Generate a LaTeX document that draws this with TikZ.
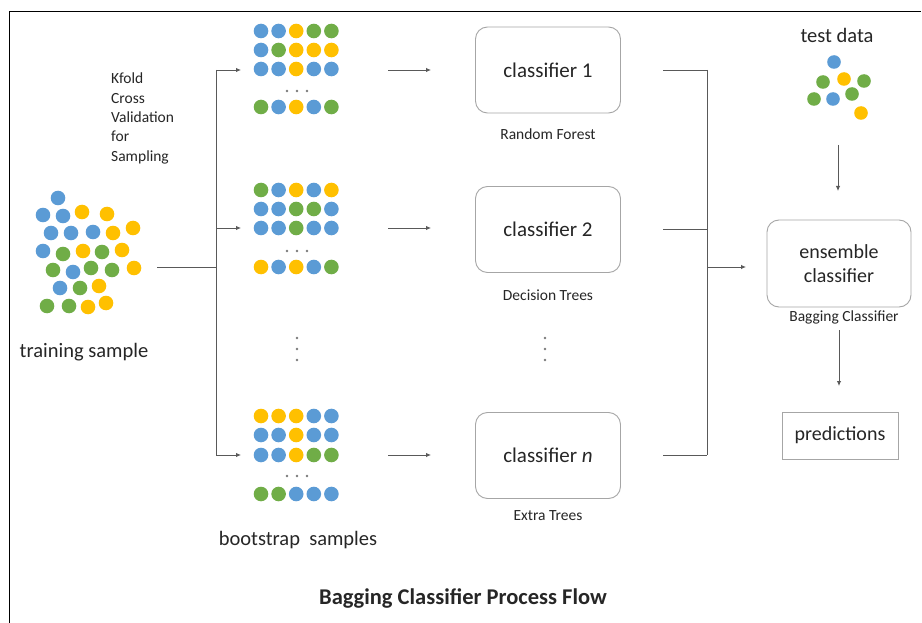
\documentclass[tikz,border=0pt]{standalone}
\usepackage{fontspec}
\setmainfont{Carlito}
\usetikzlibrary{arrows.meta}

\definecolor{dotblue}{HTML}{5B9BD5}
\definecolor{dotyellow}{HTML}{FFC000}
\definecolor{dotgreen}{HTML}{70AD47}
\definecolor{linegray}{HTML}{595959}
\definecolor{boxgray}{HTML}{A6A6A6}

\tikzset{
  dotB/.style={fill=dotblue},
  dotY/.style={fill=dotyellow},
  dotG/.style={fill=dotgreen},
  conn/.style={draw=linegray, line width=0.9pt},
  arr/.style={conn, -{Latex[length=5pt,width=4.5pt]}},
  clf/.style={draw=boxgray, line width=0.9pt, rounded corners=12pt,
    minimum width=145pt, minimum height=86pt, font=\fontsize{21}{24}\selectfont,
    text=black!85},
  sublabel/.style={font=\fontsize{15.5}{18}\selectfont, text=black!85},
  biglabel/.style={font=\fontsize{20.5}{24}\selectfont, text=black!85},
}

% one row of five sample dots
\newcommand\samplerow[3]{%
  \foreach \c [count=\i from 0] in {#3} {\fill[dot\c] (#1+\i*17.6, #2) circle (7.3pt);}}
% the small "..." between rows
\newcommand\hdots[2]{%
  \foreach \d in {-10,0,10} {\fill[linegray!80] (#1+\d, #2) circle (1.3pt);}}
\newcommand\vdotsmark[2]{%
  \foreach \d in {-11,0,11} {\fill[linegray!80] (#1, #2+\d) circle (1.3pt);}}

\begin{document}
\begin{tikzpicture}[x=1pt, y=-1pt]
\useasboundingbox (0,0) rectangle (922,623);
\fill[white] (0,0) rectangle (922,623);

% frame
\draw[black, line width=1pt] (9,623) -- (9,12) -- (921,12);

% training sample cluster
\foreach \x/\y/\c in {58/198/B,
  43/215/B, 63/216/B, 82/212/Y, 107/214/Y,
  51/233/B, 71/233/B, 93/232/B, 113/233/Y, 133/228/Y,
  43/251/B, 63/254/G, 83/251/Y, 102/252/G, 122/250/Y,
  53/270/G, 73/272/B, 91/268/G, 112/270/G, 134/268/Y,
  60/288/B, 80/288/G, 99/286/Y,
  47/306/G, 69/306/G, 88/307/Y, 106/303/Y}
  {\fill[dot\c] (\x,\y) circle (7.3pt);}
\node[biglabel] (trainlbl) at (84,352) {training sample};

% bootstrap samples
\samplerow{261}{31}{B,B,Y,G,G}
\samplerow{261}{50}{B,G,Y,Y,Y}
\samplerow{261}{69}{B,B,Y,B,B}
\hdots{297}{91}
\samplerow{261}{107}{G,B,Y,B,G}

\samplerow{261}{190}{G,B,Y,B,Y}
\samplerow{261}{209}{B,B,G,G,B}
\samplerow{261}{228}{B,B,G,B,B}
\hdots{297}{251}
\samplerow{261}{267}{Y,B,Y,B,G}

\samplerow{261}{416}{Y,Y,Y,B,B}
\samplerow{261}{435}{B,B,Y,B,B}
\samplerow{261}{455}{B,B,Y,G,G}
\hdots{297}{476}
\samplerow{261}{494}{G,G,B,B,B}

\vdotsmark{297}{349}
\vdotsmark{545}{349}

\node[biglabel] (bootlbl) at (298,540) {bootstrap\ \ samples};

\node[text=black!85, align=left, anchor=north west, inner sep=0pt,
  font=\fontsize{15.5}{19.3}\selectfont]
  (kfold) at (111,73) {Kfold\\Cross\\Validation\\for\\Sampling};

% split from training sample to the bootstrap samples
\coordinate (ts) at (157,267);
\coordinate (sp) at (216,267);
\coordinate (sp1) at (216,70);
\coordinate (sp2) at (216,228);
\coordinate (sp3) at (216,455);
\coordinate (b1in) at (241,70);
\coordinate (b2in) at (241,228);
\coordinate (b3in) at (241,455);
\draw[conn] (ts) -- (sp);
\draw[conn] (sp1) -- (sp3);
\draw[arr] (sp1) -- (b1in);
\draw[arr] (sp2) -- (b2in);
\draw[arr] (sp3) -- (b3in);

% classifiers
\node[clf] (c1) at (548,70) {classifier 1};
\node[clf] (c2) at (548,229.5) {classifier 2};
\node[clf] (c3) at (548,455.5) {classifier \textit{n}};
\node[sublabel] (c1l) at (548,134) {Random Forest};
\node[sublabel] (c2l) at (548,295) {Decision Trees};
\node[sublabel] (c3l) at (548,516) {Extra Trees};

\coordinate (b1out) at (388,70);
\coordinate (b2out) at (388,228);
\coordinate (b3out) at (388,455);
\coordinate (c1in) at (431,70);
\coordinate (c2in) at (431,228);
\coordinate (c3in) at (431,455);
\draw[arr] (b1out) -- (c1in);
\draw[arr] (b2out) -- (c2in);
\draw[arr] (b3out) -- (c3in);

% merge of the classifier outputs
\coordinate (c1out) at (663,70);
\coordinate (c2out) at (663,229);
\coordinate (c3out) at (663,455);
\coordinate (m1) at (707,70);
\coordinate (m2) at (707,229);
\coordinate (m3) at (707,455);
\coordinate (mm) at (707,267);
\coordinate (ensin) at (746,267);
\draw[conn] (c1out) -- (m1);
\draw[conn] (c2out) -- (m2);
\draw[conn] (c3out) -- (m3);
\draw[conn] (m1) -- (m3);
\draw[arr] (mm) -- (ensin);

% ensemble side
\node[biglabel] (testlbl) at (837,35) {test data};
\foreach \x/\y/\c in {834/62/B, 823/82/G, 844/79/Y, 864/81/G,
  814/99/G, 833/99/B, 852/94/G, 861/113/Y}
  {\fill[dot\c] (\x,\y) circle (6.8pt);}
\coordinate (testout) at (838,145);
\coordinate (ensinT) at (838,191);
\draw[arr] (testout) -- (ensinT);

\node[clf, minimum width=144pt, minimum height=87pt, align=center,
  font=\fontsize{20}{24}\selectfont] (ens) at (839,263.5) {ensemble\\classifier};
\node[sublabel] (ensl) at (844,317) {Bagging Classifier};

\node[draw=boxgray, line width=0.9pt, minimum width=116pt, minimum height=47pt,
  text=black!85, font=\fontsize{20}{24}\selectfont] (pred) at (840,435.5) {predictions};
\coordinate (ensout) at (839,330);
\coordinate (predin) at (839,386);
\draw[arr] (ensout) -- (predin);

% title
\node[font=\fontsize{22.5}{26}\selectfont\bfseries, text=black!85] (title) at (463,598)
  {Bagging Classifier Process Flow};
\end{tikzpicture}
\end{document}
